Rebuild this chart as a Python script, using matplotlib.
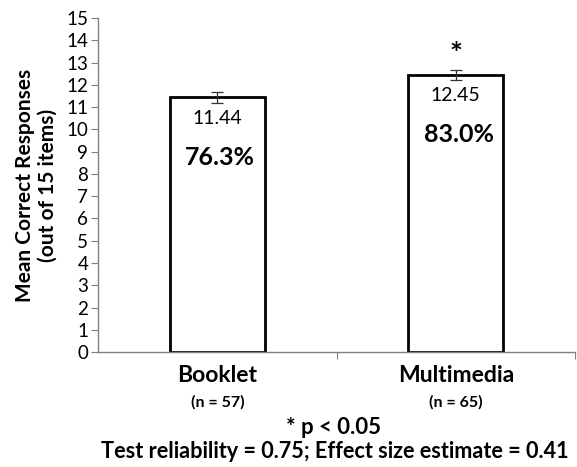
import matplotlib
matplotlib.use('Agg')
import matplotlib.pyplot as plt
import matplotlib.transforms as mtransforms

plt.rcParams['font.family'] = ['Lato', 'DejaVu Sans']

# data
groups = ['Booklet', 'Multimedia']
group_n = ['(n = 57)', '(n = 65)']
means = [11.44, 12.45]
errors = [0.25, 0.22]
percents = ['76.3%', '83.0%']
significant = [False, True]

fig = plt.figure(figsize=(5.77, 4.67), dpi=100)
ax = fig.add_axes([0.170, 0.246, 0.8265, 0.7155])

x = list(range(len(groups)))
ax.bar(x, means, width=0.40, color='white', edgecolor='black', linewidth=2, zorder=2)
ax.errorbar(x, means, yerr=errors, fmt='none', ecolor='#333333', elinewidth=0.9,
            capsize=4, capthick=0.9, zorder=3)

for xi, m, e, pct, sig in zip(x, means, errors, percents, significant):
    ax.annotate(f'{m:.2f}', (xi, m), xytext=(0, -15), textcoords='offset points',
                ha='center', va='center', fontsize=14)
    ax.annotate(pct, (xi, m), xytext=(2, -43), textcoords='offset points',
                ha='center', va='center', fontsize=18, fontweight='bold')
    if sig:
        ax.annotate('*', (xi, m + e), xytext=(0, 11), textcoords='offset points',
                    ha='center', va='center', fontsize=22, fontweight='bold')

ax.set_xlim(-0.5, len(groups) - 0.5)
ax.set_ylim(0, 15)
ax.set_yticks(range(0, 16))
ax.tick_params(axis='y', labelsize=13.5, length=5, color='#808080', pad=2)
ax.set_xticks([0.5 + i for i in x])
ax.set_xticklabels([])
ax.tick_params(axis='x', length=5, color='#808080')

for side in ['top', 'right']:
    ax.spines[side].set_visible(False)
for side in ['left', 'bottom']:
    ax.spines[side].set_color('#808080')
    ax.spines[side].set_linewidth(1)

ax.set_ylabel('Mean Correct Responses\n(out of 15 items)', fontsize=15,
              fontweight='bold', labelpad=6, linespacing=1.2)

trans = mtransforms.blended_transform_factory(ax.transData, fig.transFigure)
for xi, name, n in zip(x, groups, group_n):
    ax.text(xi, 1 - 375 / 467, name, transform=trans, ha='center', va='center',
            fontsize=16.5, fontweight='bold')
    ax.text(xi, 1 - 402 / 467, n, transform=trans, ha='center', va='center',
            fontsize=11.5, fontweight='bold')

fig.text(333 / 577, 1 - 427 / 467, '* p < 0.05', ha='center', va='center',
         fontsize=16, fontweight='bold')
fig.text(335 / 577, 1 - 452 / 467, 'Test reliability = 0.75; Effect size estimate = 0.41',
         ha='center', va='center', fontsize=15.6, fontweight='bold')

fig.savefig('out.png', dpi=100)
